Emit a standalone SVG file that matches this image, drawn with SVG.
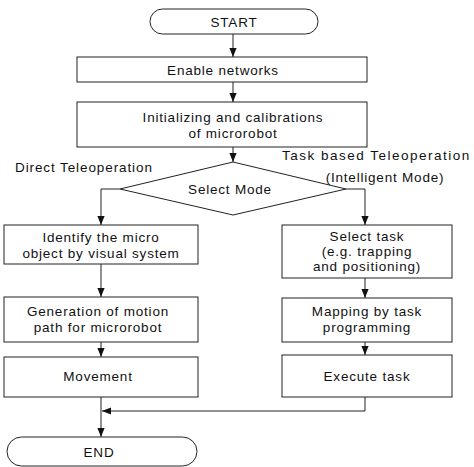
<svg xmlns="http://www.w3.org/2000/svg" width="474" height="467" viewBox="0 0 474 467">
<defs>
<marker id="ah" viewBox="0 0 10 10" refX="10" refY="5" markerWidth="9" markerHeight="9" markerUnits="userSpaceOnUse" orient="auto">
<path d="M0,1 L10,5 L0,9 Z" fill="#111"/>
</marker>
<style>
.box{fill:#fff;stroke:#222;stroke-width:1}
.t{font-family:"Liberation Sans",Arial,sans-serif;font-size:13.5px;letter-spacing:0.8px;fill:#111;text-anchor:middle}
.l{font-family:"Liberation Sans",Arial,sans-serif;font-size:13.5px;letter-spacing:0.9px;fill:#111}
.c{fill:none;stroke:#222;stroke-width:1}
</style>
</defs>
<rect width="474" height="467" fill="#fff"/>
<g id="connectors">
<path class="c" d="M233,34 V57" marker-end="url(#ah)"/>
<path class="c" d="M233,82 V102" marker-end="url(#ah)"/>
<path class="c" d="M233,147 V162" marker-end="url(#ah)"/>
<path class="c" d="M120,189 H101 V225" marker-end="url(#ah)"/>
<path class="c" d="M346,189 H365 V225" marker-end="url(#ah)"/>
<path class="c" d="M101,264 V297" marker-end="url(#ah)"/>
<path class="c" d="M365,278 V298" marker-end="url(#ah)"/>
<path class="c" d="M101,342 V357" marker-end="url(#ah)"/>
<path class="c" d="M365,342 V355" marker-end="url(#ah)"/>
<path class="c" d="M365,397 V411 H102" marker-end="url(#ah)"/>
<path class="c" d="M101,397 V437" marker-end="url(#ah)"/>
</g>
<g id="start">
<rect class="box" x="150" y="9" width="168" height="25" rx="12.5"/>
<text class="t" x="234" y="26.5">START</text>
</g>
<g id="enable">
<rect class="box" x="77" y="57" width="290" height="25"/>
<text class="t" x="223" y="74.5">Enable networks</text>
</g>
<g id="init">
<rect class="box" x="77" y="102" width="290" height="45"/>
<text class="t" x="233" y="122">Initializing and calibrations</text>
<text class="t" x="233" y="138">of microrobot</text>
</g>
<g id="select-mode">
<path class="box" d="M233,162 L346,189 L233,215 L120,189 Z"/>
<text class="t" x="230" y="194">Select Mode</text>
</g>
<g id="labels">
<text class="l" x="15" y="172">Direct Teleoperation</text>
<text class="l" x="282" y="160" style="letter-spacing:1.5px">Task based Teleoperation</text>
<text class="t" x="385" y="182">(Intelligent Mode)</text>
</g>
<g id="identify">
<rect class="box" x="4" y="225" width="194" height="39"/>
<text class="t" x="101" y="242">Identify the micro</text>
<text class="t" x="101" y="258">object by visual system</text>
</g>
<g id="generation">
<rect class="box" x="4" y="297" width="194" height="45"/>
<text class="t" x="98" y="316">Generation of motion</text>
<text class="t" x="98" y="332">path for microrobot</text>
</g>
<g id="movement">
<rect class="box" x="4" y="357" width="194" height="40"/>
<text class="t" x="98" y="381">Movement</text>
</g>
<g id="select-task">
<rect class="box" x="282" y="225" width="170" height="53"/>
<text class="t" x="367" y="241">Select task</text>
<text class="t" x="367" y="256">(e.g. trapping</text>
<text class="t" x="367" y="271">and positioning)</text>
</g>
<g id="mapping">
<rect class="box" x="282" y="298" width="170" height="44"/>
<text class="t" x="367" y="316">Mapping by task</text>
<text class="t" x="367" y="332">programming</text>
</g>
<g id="execute">
<rect class="box" x="282" y="355" width="170" height="42"/>
<text class="t" x="367" y="381">Execute task</text>
</g>
<g id="end">
<rect class="box" x="7" y="437" width="190" height="29" rx="14.5"/>
<text class="t" x="99" y="456.5">END</text>
</g>
</svg>
